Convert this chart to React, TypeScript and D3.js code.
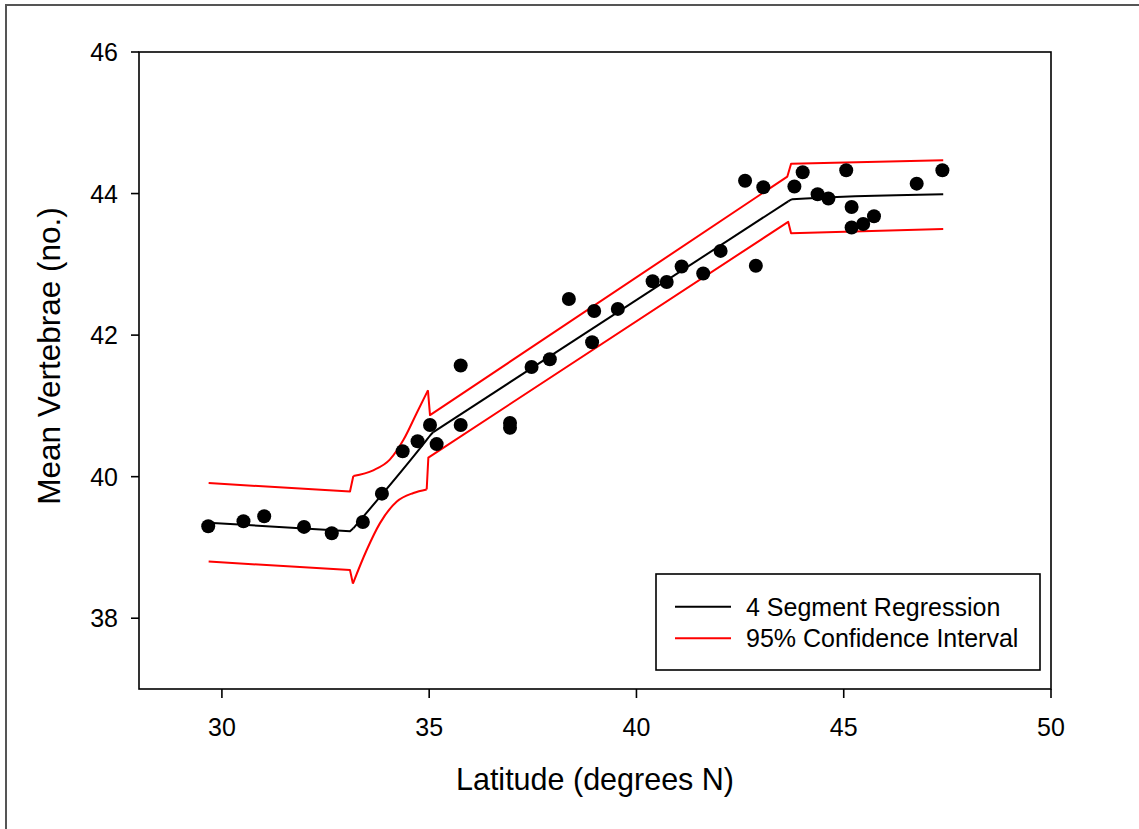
import React from "react";
import * as d3 from "d3";

const latitude = [29.67, 30.52, 31.02, 31.98, 32.65, 33.4, 33.86, 34.36, 34.72, 35.02, 35.18, 35.76, 35.76, 36.95, 36.95, 37.47, 37.91, 38.37, 38.98, 38.93, 39.55, 40.39, 40.73, 41.09, 41.61, 42.03, 42.62, 42.88, 43.06, 43.81, 44.01, 44.37, 44.63, 45.06, 45.19, 45.19, 45.47, 45.73, 46.76, 47.38];
const vertebrae = [39.3, 39.37, 39.44, 39.29, 39.2, 39.36, 39.76, 40.36, 40.5, 40.73, 40.46, 40.73, 41.57, 40.76, 40.69, 41.55, 41.66, 42.51, 42.34, 41.9, 42.37, 42.76, 42.75, 42.97, 42.87, 43.19, 44.18, 42.98, 44.09, 44.1, 44.3, 43.99, 43.93, 44.33, 43.81, 43.52, 43.57, 43.68, 44.14, 44.33];

// 4-segment regression
const fitX = [29.68, 33.09, 33.17, 34.94, 35.02, 35.1, 43.66, 43.76, 47.4];
const fitY = [39.35, 39.23, 39.27, 40.52, 40.58, 40.63, 43.89, 43.92, 43.99];

// upper 95% CI: flat part, curved rise, linear part, flat part
const upperX = [29.68, 33.09, 33.17, 33.65, 34.05, 34.38, 34.7, 34.97, 35.02, 43.64, 43.73, 47.4];
const upperY = [39.91, 39.79, 40.01, 40.09, 40.24, 40.52, 40.9, 41.22, 40.87, 44.24, 44.42, 44.47];

// lower 95% CI
const lowerX = [29.68, 33.09, 33.16, 33.49, 33.81, 34.22, 34.62, 34.94, 34.98, 43.66, 43.73, 47.4];
const lowerY = [38.8, 38.68, 38.49, 38.96, 39.34, 39.65, 39.77, 39.82, 40.27, 43.6, 43.44, 43.5];

const xTicks = [30, 35, 40, 45, 50];
const yTicks = [38, 40, 42, 44, 46];

const legendLabels = ["4 Segment Regression", "95% Confidence Interval"];

const FONT = "'Liberation Sans', Arial, Helvetica, sans-serif";

export default function App() {
  const W = 1139, H = 829;
  const left = 139, right = 1051, top = 52, bottom = 689;
  const x = d3.scaleLinear().domain([28, 50]).range([left, right]);
  const y = d3.scaleLinear().domain([37, 46]).range([bottom, top]);

  const straight = d3.line<[number, number]>().x(d => x(d[0])).y(d => y(d[1]));
  const smooth = d3.line<[number, number]>().x(d => x(d[0])).y(d => y(d[1])).curve(d3.curveMonotoneX);

  const pts = (xs: number[], ys: number[], a: number, b: number) =>
    xs.slice(a, b + 1).map((v, i) => [v, ys[a + i]] as [number, number]);

  const fitPaths = [
    straight(pts(fitX, fitY, 0, 2)),
    smooth(pts(fitX, fitY, 2, 5)),
    straight(pts(fitX, fitY, 5, 6)),
    smooth(pts(fitX, fitY, 6, 8)),
  ];
  const upPaths = [
    straight(pts(upperX, upperY, 0, 2)),
    smooth(pts(upperX, upperY, 2, 7)),
    straight(pts(upperX, upperY, 7, 11)),
  ];
  const loPaths = [
    straight(pts(lowerX, lowerY, 0, 2)),
    smooth(pts(lowerX, lowerY, 2, 7)),
    straight(pts(lowerX, lowerY, 7, 11)),
  ];

  const lgX = 656, lgY = 574, lgW = 384, lgH = 96;

  return (
    <svg width={W} height={H} style={{ position: "absolute", left: 0, top: 0, background: "#fff" }} fontFamily={FONT}>
      <rect x={0} y={0} width={W} height={H} fill="#fff" />
      <rect x={6} y={5} width={W + 20} height={H + 20} fill="none" stroke="#555" strokeWidth={2} />

      {/* frame */}
      <rect x={left} y={top} width={right - left} height={bottom - top} fill="none" stroke="#000" strokeWidth={1.6} />

      {/* x ticks */}
      {xTicks.map(t => (
        <g key={"x" + t}>
          <line x1={x(t)} x2={x(t)} y1={bottom} y2={bottom + 9} stroke="#000" strokeWidth={1.6} />
          <text x={x(t)} y={bottom + 47} fontSize={25} textAnchor="middle" fill="#000">{t}</text>
        </g>
      ))}
      {/* y ticks */}
      {yTicks.map(t => (
        <g key={"y" + t}>
          <line x1={left - 8} x2={left} y1={y(t)} y2={y(t)} stroke="#000" strokeWidth={1.6} />
          <text x={left - 21} y={y(t) + 9} fontSize={25} textAnchor="end" fill="#000">{t}</text>
        </g>
      ))}

      <text x={(left + right) / 2} y={790} fontSize={30.5} textAnchor="middle" fill="#000">Latitude (degrees N)</text>
      <text transform={`translate(60,356) rotate(-90)`} fontSize={31.5} textAnchor="middle" fill="#000">Mean Vertebrae (no.)</text>

      {/* CI */}
      {upPaths.map((d, i) => <path key={"u" + i} d={d || ""} fill="none" stroke="#ff0000" strokeWidth={2} strokeLinejoin="round" />)}
      {loPaths.map((d, i) => <path key={"l" + i} d={d || ""} fill="none" stroke="#ff0000" strokeWidth={2} strokeLinejoin="round" />)}
      {/* fit */}
      {fitPaths.map((d, i) => <path key={"f" + i} d={d || ""} fill="none" stroke="#000" strokeWidth={2} strokeLinejoin="round" />)}

      {/* points */}
      {latitude.map((v, i) => (
        <circle key={"p" + i} cx={x(v)} cy={y(vertebrae[i])} r={7} fill="#000" />
      ))}

      {/* legend */}
      <rect x={lgX} y={lgY} width={lgW} height={lgH} fill="#fff" stroke="#000" strokeWidth={1.6} />
      <line x1={675} x2={731} y1={606.7} y2={606.7} stroke="#000" strokeWidth={2} />
      <line x1={675} x2={731} y1={638.3} y2={638.3} stroke="#ff0000" strokeWidth={2} />
      <text x={746} y={615.5} fontSize={25} fill="#000">{legendLabels[0]}</text>
      <text x={746} y={647} fontSize={25} fill="#000">{legendLabels[1]}</text>
    </svg>
  );
}
